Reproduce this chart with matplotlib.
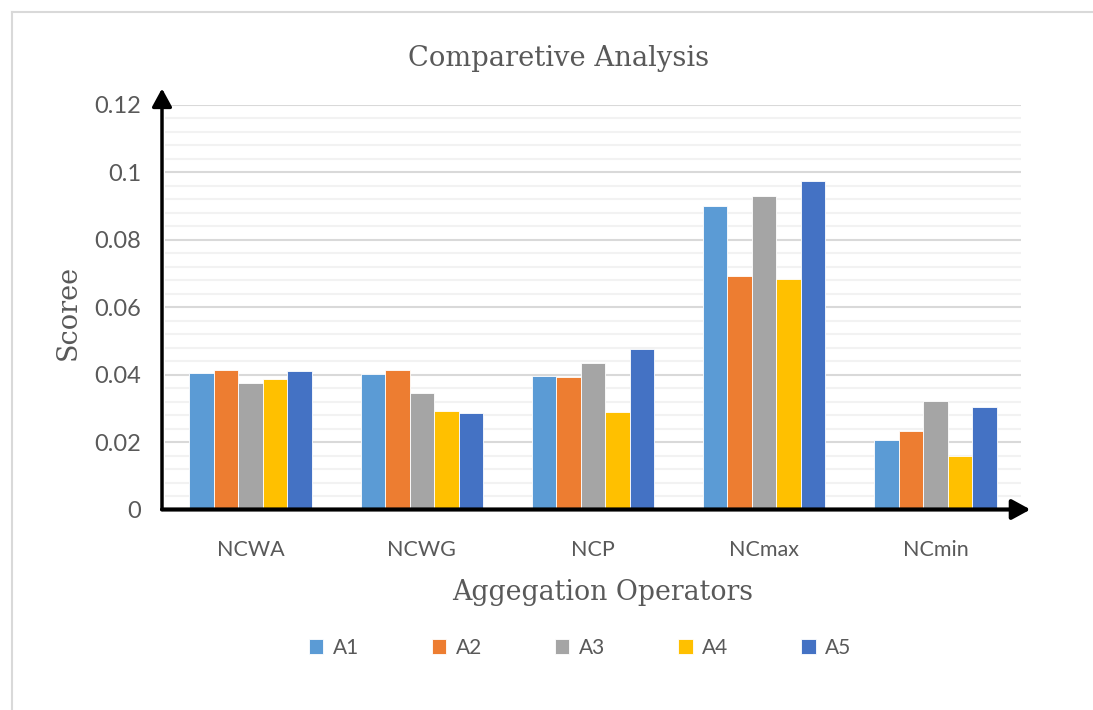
import numpy as np
import matplotlib
matplotlib.use('Agg')
import matplotlib.pyplot as plt
from matplotlib.lines import Line2D

categories = ['NCWA', 'NCWG', 'NCP', 'NCmax', 'NCmin']
series = ['A1', 'A2', 'A3', 'A4', 'A5']
A1 = [0.0404, 0.0402, 0.0397, 0.0900, 0.0205]
A2 = [0.0415, 0.0414, 0.0394, 0.0691, 0.0234]
A3 = [0.0374, 0.0345, 0.0434, 0.0930, 0.0321]
A4 = [0.0387, 0.0293, 0.0290, 0.0684, 0.0160]
A5 = [0.0412, 0.0285, 0.0475, 0.0973, 0.0304]
colors = ['#5B9BD5', '#ED7D31', '#A5A5A5', '#FFC000', '#4472C4']

txt = '#595959'
sans = ['Lato', 'DejaVu Sans']
serif = ['DejaVu Serif']

fig = plt.figure(figsize=(10.93, 7.10), dpi=100)
ax = fig.add_axes([165/1093, 1 - 509.5/710, 856/1093, 404.8/710])

x = np.arange(len(categories))
w = 0.143
for i, vals in enumerate([A1, A2, A3, A4, A5]):
    ax.bar(x + (i - 2) * w, vals, w, color=colors[i], label=series[i],
           edgecolor='white', linewidth=0.6, zorder=3)

ax.set_xlim(-0.5, 4.5)
ax.set_ylim(0, 0.12)
ax.set_yticks(np.arange(0, 0.121, 0.02))
ax.set_yticklabels(['0', '0.02', '0.04', '0.06', '0.08', '0.1', '0.12'])
ax.set_yticks(np.arange(0, 0.121, 0.004), minor=True)
ax.grid(axis='y', which='major', color='#D9D9D9', lw=1.5, zorder=0)
ax.grid(axis='y', which='minor', color='#F2F2F2', lw=1.5, zorder=0)
ax.set_xticks(x)
ax.set_xticklabels(categories)
for s in ax.spines.values():
    s.set_visible(False)
ax.tick_params(which='both', length=0)
ax.tick_params(axis='y', pad=17, labelsize=17, labelcolor=txt)
ax.tick_params(axis='x', pad=22, labelsize=15.5, labelcolor=txt)
for lab in ax.get_xticklabels() + ax.get_yticklabels():
    lab.set_family(sans)

# axis arrows
ax.annotate('', xy=(-0.0035, 1.04), xytext=(-0.0035, 0), xycoords='axes fraction',
            arrowprops=dict(arrowstyle='-|>,head_length=0.55,head_width=0.3',
                            lw=2.5, color='black', mutation_scale=20, shrinkA=0, shrinkB=0),
            annotation_clip=False)
ax.annotate('', xy=(1.011, 0), xytext=(-0.0035, 0), xycoords='axes fraction',
            arrowprops=dict(arrowstyle='-|>,head_length=0.55,head_width=0.3',
                            lw=3, color='black', mutation_scale=20, shrinkA=0, shrinkB=0),
            annotation_clip=False)

fig.text(559/1093, 1 - 58/710, 'Comparetive Analysis', ha='center', va='center',
         fontsize=19.7, color=txt, family=serif)
fig.text(603/1093, 1 - 592/710, 'Aggegation Operators', ha='center', va='center',
         fontsize=19.3, color=txt, family=serif)
fig.text(68/1093, 1 - 312/710, 'Scoree', ha='center', va='center', rotation=90,
         fontsize=19.5, color=txt, family=serif)

leg = fig.legend(loc='center', bbox_to_anchor=(580/1093, 1 - 648/710), ncol=5,
                 frameon=False, handlelength=0.7, handleheight=0.7, handletextpad=0.45,
                 columnspacing=3.5, prop={'family': sans, 'size': 15})
for t in leg.get_texts():
    t.set_color(txt)

# chart border (top and left visible)
fig.add_artist(Line2D([12/1093, 1.02], [1 - 12/710, 1 - 12/710], color='#D9D9D9', lw=1.5))
fig.add_artist(Line2D([12/1093, 12/1093], [-0.02, 1 - 12/710], color='#D9D9D9', lw=1.5))

fig.savefig('out.png', dpi=100)
